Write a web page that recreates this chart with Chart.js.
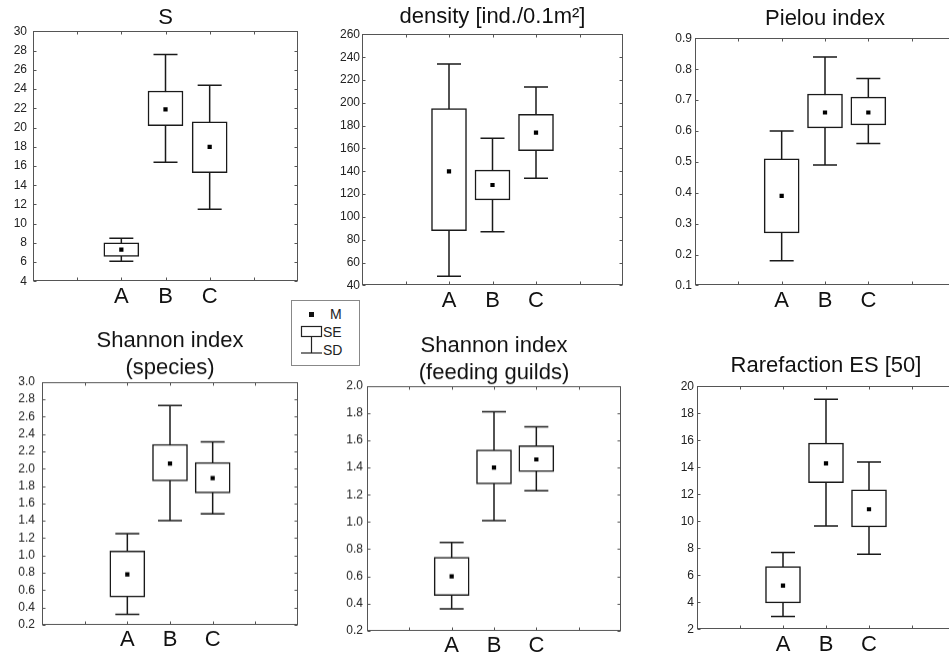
<!DOCTYPE html>
<html>
<head>
<meta charset="utf-8">
<script src="https://cdn.jsdelivr.net/npm/chart.js@4.4.1/dist/chart.umd.min.js"></script>
<style>
  html, body { margin: 0; padding: 0; overflow: hidden; background: #fff; }
  body { width: 949px; height: 658px; position: relative; font-family: 'Liberation Sans', Arial, sans-serif; }
  .panel { position: absolute; }
  #legend { position: absolute; left: 291px; top: 300px; }
</style>
</head>
<body>
<div class="panel" id="p1"><canvas></canvas></div>
<div class="panel" id="p2"><canvas></canvas></div>
<div class="panel" id="p3"><canvas></canvas></div>
<div class="panel" id="p4"><canvas></canvas></div>
<div class="panel" id="p5"><canvas></canvas></div>
<div class="panel" id="p6"><canvas></canvas></div>

<svg id="legend" width="69" height="66" xmlns="http://www.w3.org/2000/svg">
  <rect x="0.5" y="0.5" width="68" height="65" fill="#fff" stroke="#888" stroke-width="1"/>
  <rect x="18" y="12" width="5" height="5" fill="#111"/>
  <text x="39" y="19" font-family="Liberation Sans, Arial" font-size="14" fill="#222">M</text>
  <rect x="10.5" y="26.5" width="20" height="10" fill="#fff" stroke="#222" stroke-width="1.2"/>
  <text x="32" y="37" font-family="Liberation Sans, Arial" font-size="14" fill="#222">SE</text>
  <line x1="20.5" y1="37" x2="20.5" y2="53" stroke="#222" stroke-width="1.2"/>
  <line x1="10" y1="53" x2="31" y2="53" stroke="#222" stroke-width="1.2"/>
  <text x="32" y="55" font-family="Liberation Sans, Arial" font-size="14" fill="#222">SD</text>
</svg>

<script>
const categories = ['A', 'B', 'C'];

// S
const sMean = [7.3, 21.9, 18.0];
const sSE = [[6.6, 8.0], [20.2, 23.8], [15.3, 20.6]];
const sSD = [[6.1, 8.5], [16.4, 27.6], [11.5, 24.4]];
const sAxis = [4, 30, 2];

// density
const dMean = [140, 128, 174];
const dSE = [[88, 195], [115, 141], [158, 190]];
const dSD = [[48, 234], [87, 169], [134, 214]];
const dAxis = [40, 260, 20];

// Pielou
const pMean = [0.39, 0.66, 0.66];
const pSE = [[0.27, 0.51], [0.61, 0.72], [0.62, 0.71]];
const pSD = [[0.18, 0.60], [0.49, 0.84], [0.56, 0.77]];
const pAxis = [0.1, 0.9, 0.1];

// Shannon (species)
const hsMean = [0.78, 2.06, 1.89];
const hsSE = [[0.52, 1.05], [1.86, 2.28], [1.72, 2.07]];
const hsSD = [[0.32, 1.25], [1.40, 2.73], [1.48, 2.31]];
const hsAxis = [0.2, 3.0, 0.2];

// Shannon (feeding guilds)
const hgMean = [0.60, 1.40, 1.46];
const hgSE = [[0.46, 0.74], [1.28, 1.53], [1.37, 1.56]];
const hgSD = [[0.36, 0.85], [1.01, 1.81], [1.23, 1.70]];
const hgAxis = [0.2, 2.0, 0.2];

// Rarefaction ES[50]
const rMean = [5.25, 14.3, 10.9];
const rSE = [[3.97, 6.65], [12.86, 15.8], [9.6, 12.34]];
const rSD = [[2.96, 7.7], [9.66, 19.05], [7.57, 14.4]];
const rAxis = [2, 20, 2];

const FONT = "'Liberation Sans', Arial, sans-serif";
const xLabels = ['', '', ...categories, '', ''];
const pad = arr => [null, null, ...arr, null, null];

// whiskers under the boxes, frame + inward ticks on top
const boxPlot = {
  id: 'boxPlot',
  beforeDatasetsDraw(chart) {
    const x = chart.scales.x, y = chart.scales.y;
    const sd = chart.data.datasets[0].sd;
    const ctx = chart.ctx;
    ctx.save();
    ctx.strokeStyle = '#1a1a1a';
    ctx.lineWidth = 1.5;
    sd.forEach((v, i) => {
      if (!v) return;
      const px = x.getPixelForValue(i);
      const y1 = y.getPixelForValue(v[0]), y2 = y.getPixelForValue(v[1]);
      ctx.beginPath();
      ctx.moveTo(px, y1); ctx.lineTo(px, y2);
      ctx.moveTo(px - 12, y1); ctx.lineTo(px + 12, y1);
      ctx.moveTo(px - 12, y2); ctx.lineTo(px + 12, y2);
      ctx.stroke();
    });
    ctx.restore();
  },
  afterDraw(chart) {
    const a = chart.chartArea, ctx = chart.ctx;
    const x = chart.scales.x, y = chart.scales.y;
    ctx.save();
    ctx.strokeStyle = '#555';
    ctx.lineWidth = 1;
    const l = Math.round(a.left) + 0.5, r = Math.round(a.right) - 0.5;
    const t = Math.round(a.top) + 0.5, b = Math.round(a.bottom) - 0.5;
    ctx.strokeRect(l, t, r - l, b - t);
    ctx.beginPath();
    for (let i = 1; i < xLabels.length - 1; i++) {
      const px = Math.round(x.getPixelForValue(i)) + 0.5;
      ctx.moveTo(px, t); ctx.lineTo(px, t + 3);
      ctx.moveTo(px, b); ctx.lineTo(px, b - 3);
    }
    y.ticks.forEach(tk => {
      const py = Math.round(y.getPixelForValue(tk.value)) + 0.5;
      ctx.moveTo(l, py); ctx.lineTo(l + 3, py);
      ctx.moveTo(r, py); ctx.lineTo(r - 3, py);
    });
    ctx.stroke();
    ctx.restore();
  }
};

const panels = [
  { id: 'p1', title: ['S'], mean: sMean, se: sSE, sd: sSD, axis: sAxis, dec: 0, rect: [33, 31, 302, 281], titlePad: 0, tickPad: 6 },
  { id: 'p2', title: ['density [ind./0.1m²]'], mean: dMean, se: dSE, sd: dSD, axis: dAxis, dec: 0, rect: [362, 34, 627, 285], titlePad: 4, tickPad: 2 },
  { id: 'p3', title: ['Pielou index'], mean: pMean, se: pSE, sd: pSD, axis: pAxis, dec: 1, rect: [695, 38, 959, 285], titlePad: 6, tickPad: 3 },
  { id: 'p4', title: ['Shannon index', '(species)'], mean: hsMean, se: hsSE, sd: hsSD, axis: hsAxis, dec: 1, rect: [42, 382, 302, 624], titlePad: 1, tickPad: 7 },
  { id: 'p5', title: ['Shannon index', '(feeding guilds)'], mean: hgMean, se: hgSE, sd: hgSD, axis: hgAxis, dec: 1, rect: [367, 386, 625, 630], titlePad: 0, tickPad: 4 },
  { id: 'p6', title: ['Rarefaction ES [50]'], mean: rMean, se: rSE, sd: rSD, axis: rAxis, dec: 0, rect: [697, 386, 959, 629], titlePad: 7, tickPad: 3 }
];

const Y_W = 45, X_H = 34, LH = 26.4;

panels.forEach(p => {
  const [L, T, R, B] = p.rect;
  const titleH = p.title.length * LH + p.titlePad;
  const box = document.getElementById(p.id);
  box.style.left = (L - Y_W) + 'px';
  box.style.top = (T - titleH) + 'px';
  box.style.width = (R - L + Y_W) + 'px';
  box.style.height = (B - T + titleH + X_H) + 'px';

  new Chart(box.querySelector('canvas'), {
    type: 'bar',
    data: {
      labels: xLabels,
      datasets: [
        {
          type: 'bar',
          data: pad(p.se),
          sd: pad(p.sd),
          backgroundColor: '#fff',
          borderColor: '#1a1a1a',
          borderWidth: 1.5,
          borderSkipped: false,
          barThickness: 35,
          order: 2
        },
        {
          type: 'line',
          data: pad(p.mean),
          showLine: false,
          pointStyle: 'rect',
          pointRadius: 3,
          pointBorderWidth: 0,
          pointBackgroundColor: '#000',
          order: 1
        }
      ]
    },
    options: {
      responsive: true,
      maintainAspectRatio: false,
      animation: false,
      events: [],
      layout: { padding: 0 },
      plugins: {
        legend: { display: false },
        tooltip: { enabled: false },
        title: {
          display: true,
          text: p.title,
          fullSize: false,
          color: '#111',
          font: { family: FONT, size: 22, weight: 'normal', lineHeight: 1.2 },
          padding: { top: 0, bottom: p.titlePad }
        }
      },
      scales: {
        x: {
          type: 'category',
          offset: false,
          grid: { display: false, drawTicks: false },
          border: { display: false },
          ticks: { autoSkip: false, maxRotation: 0, padding: 2, color: '#111', font: { family: FONT, size: 22 } },
          afterFit: s => { s.height = X_H; }
        },
        y: {
          min: p.axis[0],
          max: p.axis[1],
          grid: { display: false, drawTicks: false },
          border: { display: false },
          ticks: {
            stepSize: p.axis[2],
            autoSkip: false,
            padding: p.tickPad,
            color: '#222',
            font: { family: FONT, size: 12 },
            callback: v => Number(v).toFixed(p.dec)
          },
          afterFit: s => { s.width = Y_W; }
        }
      }
    },
    plugins: [boxPlot]
  });
});
</script>
</body>
</html>
